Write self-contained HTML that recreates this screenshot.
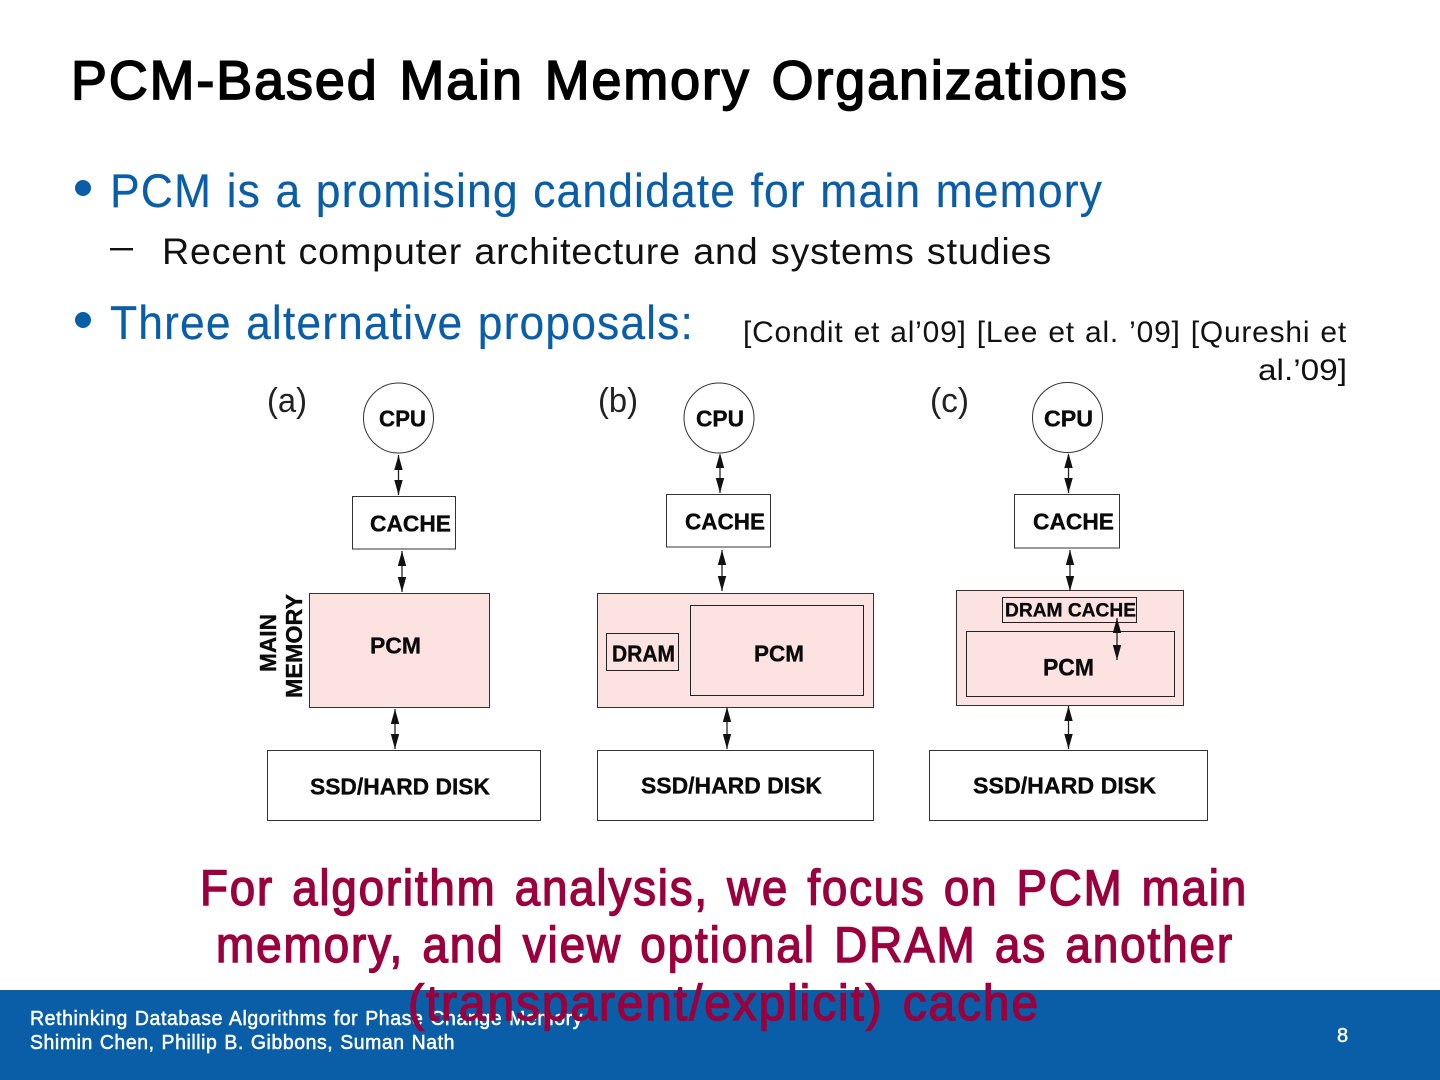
<!DOCTYPE html>
<html><head><meta charset="utf-8"><style>
html,body{margin:0;padding:0;background:#fff}
svg{display:block}
text{font-family:"Liberation Sans",sans-serif}
.d{font-weight:bold;fill:#0a0a0a;stroke:#0a0a0a;stroke-width:.35}
.b{fill:#fff;stroke:#333;stroke-width:1}
.p{fill:#fde2e2;stroke:#333;stroke-width:1}
.n{fill:none;stroke:#222;stroke-width:1}
.a{stroke:#222;stroke-width:1.3;fill:none}
.h{fill:#111;stroke:none}
.t{letter-spacing:2px;word-spacing:4px}
.s{letter-spacing:1.2px;word-spacing:1px}
.x{letter-spacing:.8px;word-spacing:1px}
.f{letter-spacing:.6px;word-spacing:1px}
</style></head><body>
<svg width="1440" height="1080" viewBox="0 0 1440 1080" xmlns="http://www.w3.org/2000/svg">
<rect width="1440" height="1080" fill="#fff"/>
<text class="t" x="71" y="99" font-size="55" fill="#000" stroke="#000" stroke-width="1.7" textLength="1058" lengthAdjust="spacingAndGlyphs">PCM-Based Main Memory Organizations</text>
<circle cx="83" cy="188" r="8" fill="#0a5ea8"/>
<text class="s" x="110" y="207" font-size="47" fill="#0a5ea8" stroke="#0a5ea8" stroke-width=".2" textLength="993" lengthAdjust="spacingAndGlyphs">PCM is a promising candidate for main memory</text>
<rect x="110" y="248" width="23" height="2.4" fill="#111"/>
<text class="x" x="162" y="264" font-size="37" fill="#111" textLength="890" lengthAdjust="spacingAndGlyphs">Recent computer architecture and systems studies</text>
<circle cx="83" cy="320" r="8" fill="#0a5ea8"/>
<text class="s" x="110" y="339" font-size="47" fill="#0a5ea8" stroke="#0a5ea8" stroke-width=".2" textLength="584" lengthAdjust="spacingAndGlyphs">Three alternative proposals:</text>
<text class="x" x="743" y="342" font-size="30" fill="#111" textLength="604" lengthAdjust="spacingAndGlyphs">[Condit et al’09] [Lee et al. ’09] [Qureshi et</text>
<text x="1258" y="380" font-size="30" fill="#111" textLength="89" lengthAdjust="spacingAndGlyphs">al.’09]</text>

<!-- (a) -->
<text x="267" y="412" font-size="34" fill="#222" textLength="40" lengthAdjust="spacingAndGlyphs">(a)</text>
<circle class="b" cx="398.5" cy="418" r="35"/>
<text class="d" x="379" y="426.5" font-size="23" textLength="47" lengthAdjust="spacingAndGlyphs">CPU</text>
<rect class="b" x="352.5" y="496.5" width="103" height="52.5"/>
<text class="d" x="370" y="531.5" font-size="23" textLength="81" lengthAdjust="spacingAndGlyphs">CACHE</text>
<rect class="p" x="309.5" y="593.5" width="180" height="114"/>
<text class="d" x="370" y="653.5" font-size="23" textLength="51" lengthAdjust="spacingAndGlyphs">PCM</text>
<rect class="b" x="267.5" y="750.5" width="273" height="70"/>
<text class="d" x="310" y="794.5" font-size="23" textLength="180" lengthAdjust="spacingAndGlyphs">SSD/HARD DISK</text>
<text class="d" transform="translate(276,672) rotate(-90)" font-size="23" textLength="58" lengthAdjust="spacingAndGlyphs">MAIN</text>
<text class="d" transform="translate(302,698) rotate(-90)" font-size="23" textLength="104" lengthAdjust="spacingAndGlyphs">MEMORY</text>
<path class="a" d="M398.5 455V495M402 551V592M395 709V749"/>
<path class="h" d="M398.5 455l-4.2 15h8.4zM398.5 495l-4.2-15h8.4zM402 551l-4.2 15h8.4zM402 592l-4.2-15h8.4zM395 709l-4.2 15h8.4zM395 749l-4.2-15h8.4z"/>

<!-- (b) -->
<text x="598" y="412" font-size="34" fill="#222" textLength="40" lengthAdjust="spacingAndGlyphs">(b)</text>
<circle class="b" cx="719" cy="418" r="35"/>
<text class="d" x="696" y="426.5" font-size="23" textLength="48" lengthAdjust="spacingAndGlyphs">CPU</text>
<rect class="b" x="666.5" y="494.5" width="104" height="52.5"/>
<text class="d" x="685" y="529.5" font-size="23" textLength="80" lengthAdjust="spacingAndGlyphs">CACHE</text>
<rect class="p" x="597.5" y="593.5" width="276" height="114"/>
<rect class="n" x="690.5" y="605.5" width="173" height="90"/>
<text class="d" x="754" y="661.5" font-size="23" textLength="50" lengthAdjust="spacingAndGlyphs">PCM</text>
<rect class="n" x="606.5" y="633.5" width="72" height="37"/>
<text class="d" x="612" y="661.5" font-size="23" textLength="63" lengthAdjust="spacingAndGlyphs">DRAM</text>
<rect class="b" x="597.5" y="750.5" width="276" height="70"/>
<text class="d" x="641" y="793.5" font-size="23" textLength="181" lengthAdjust="spacingAndGlyphs">SSD/HARD DISK</text>
<path class="a" d="M720 455V493M722 550V591M727 707V749"/>
<path class="h" d="M720 453l-4.2 15h8.4zM720 493l-4.2-15h8.4zM722 550l-4.2 15h8.4zM722 591l-4.2-15h8.4zM727 707l-4.2 15h8.4zM727 749l-4.2-15h8.4z"/>

<!-- (c) -->
<text x="930" y="412" font-size="34" fill="#222" textLength="39" lengthAdjust="spacingAndGlyphs">(c)</text>
<circle class="b" cx="1067.5" cy="417.5" r="35"/>
<text class="d" x="1044" y="426.5" font-size="23" textLength="49" lengthAdjust="spacingAndGlyphs">CPU</text>
<rect class="b" x="1014.5" y="494.5" width="105" height="53.5"/>
<text class="d" x="1033" y="529.5" font-size="23" textLength="81" lengthAdjust="spacingAndGlyphs">CACHE</text>
<rect class="p" x="956.5" y="590.5" width="227" height="115"/>
<rect class="n" x="1002.5" y="597.5" width="134" height="25"/>
<text class="d" x="1005" y="616.5" font-size="19.5" textLength="131" lengthAdjust="spacingAndGlyphs">DRAM CACHE</text>
<rect class="n" x="966.5" y="631.5" width="208" height="65"/>
<text class="d" x="1043" y="675.5" font-size="24" textLength="51" lengthAdjust="spacingAndGlyphs">PCM</text>
<rect class="b" x="929.5" y="750.5" width="278" height="70"/>
<text class="d" x="973" y="793.5" font-size="23" textLength="183" lengthAdjust="spacingAndGlyphs">SSD/HARD DISK</text>
<path class="a" d="M1068.5 455V493M1070 550V591M1117 618V660M1068.5 706V749"/>
<path class="h" d="M1068.5 453l-4.2 15h8.4zM1068.5 493l-4.2-15h8.4zM1070 550l-4.2 15h8.4zM1070 591l-4.2-15h8.4zM1117 618l-4.2 15h8.4zM1117 660l-4.2-15h8.4zM1068.5 706l-4.2 15h8.4zM1068.5 749l-4.2-15h8.4z"/>

<!-- footer -->
<rect x="0" y="990" width="1440" height="90" fill="#0a5ea8"/>
<g fill="#fff" stroke="#fff" stroke-width=".5">
<text class="f" x="30" y="1025" font-size="20" textLength="553" lengthAdjust="spacingAndGlyphs">Rethinking Database Algorithms for Phase Change Memory</text>
<text class="f" x="30" y="1049" font-size="20" textLength="425" lengthAdjust="spacingAndGlyphs">Shimin Chen, Phillip B. Gibbons, Suman Nath</text>
<text x="1337" y="1042" font-size="20">8</text>
</g>

<!-- emphasis -->
<g font-size="50" fill="#99003d" stroke="#99003d" stroke-width="1.4">
<text class="t" x="200" y="905" textLength="1048" lengthAdjust="spacingAndGlyphs">For algorithm analysis, we focus on PCM main</text>
<text class="t" x="216" y="962" textLength="1018" lengthAdjust="spacingAndGlyphs">memory, and view optional DRAM as another</text>
<text class="t" x="408" y="1020" textLength="632" lengthAdjust="spacingAndGlyphs">(transparent/explicit) cache</text>
</g>
</svg>
</body></html>
